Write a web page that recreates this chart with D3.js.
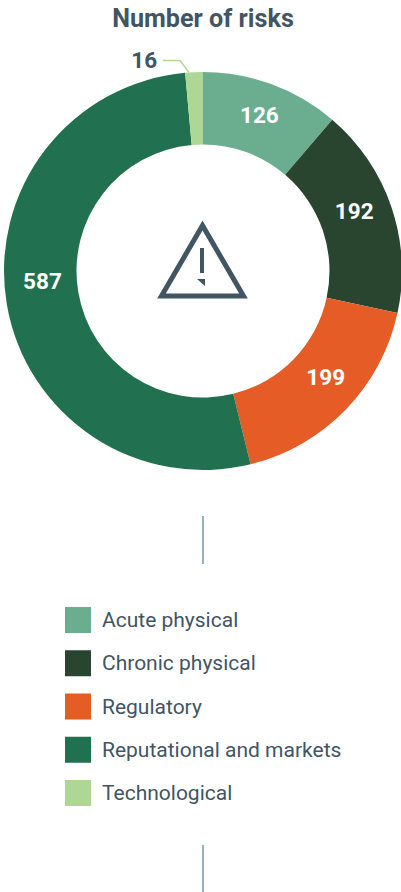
<!DOCTYPE html>
<html><head><meta charset="utf-8">
<script src="https://cdn.jsdelivr.net/npm/d3@7/dist/d3.min.js"></script>
<style>html,body{margin:0;padding:0;background:#fff;overflow:hidden}svg{display:block;font-family:Roboto,sans-serif}</style>
</head><body><svg id="c" width="401" height="892"></svg>
<script>
const categories = ["Acute physical","Chronic physical","Regulatory","Reputational and markets","Technological"];
const values = [126,192,199,587,16];
const colors = ["#6bae8f","#29452f","#e55c27","#217151","#aed694"];
const title = "Number of risks";
const ink = "#425563", rule = "#8fb3bb";
const svg = d3.select("#c");
const cx = 203, cy = 271, R = 199, r = 126.5;
svg.append("text").attr("x",203).attr("y",27).attr("text-anchor","middle")
  .attr("font-size",25.2).attr("font-weight",700).attr("fill",ink).text(title);
const pie = d3.pie().sort(null)(values);
const arc = d3.arc().innerRadius(r).outerRadius(R);
const g = svg.append("g").attr("transform",`translate(${cx},${cy})`);
g.selectAll("path").data(pie).join("path").attr("d",arc).attr("fill",(d,i)=>colors[i]);
const mid = d3.arc().innerRadius((R+r)/2).outerRadius((R+r)/2);
const nudges = [[0,-3],[-3,-8],[6,-8],[0,-17]];
g.selectAll("text.v").data(pie.slice(0,4)).join("text").attr("class","v")
  .attr("transform",(d,i)=>{const c=mid.centroid(d);return `translate(${c[0]+nudges[i][0]},${c[1]+nudges[i][1]})`;})
  .attr("text-anchor","middle").attr("dy","0.36em")
  .attr("font-size",22.5).attr("font-weight",700).attr("fill","#fff")
  .text(d=>d.value);
// small-slice callout
const small = pie[4];
const a0 = small.startAngle + (small.endAngle-small.startAngle)*0.22;
const edge = [R*Math.sin(a0), -R*Math.cos(a0)];
const callout = d3.line()([[edge[0],edge[1]],[edge[0]-9,edge[1]-12],[edge[0]-26,edge[1]-12]]);
g.append("path").attr("d",callout).attr("fill","none").attr("stroke",colors[4]).attr("stroke-width",1.4);
g.append("text").attr("x",edge[0]-32).attr("y",edge[1]-12.5).attr("dy","0.36em")
  .attr("text-anchor","end").attr("font-size",22.5).attr("font-weight",700).attr("fill",ink).text(small.value);
// warning icon
svg.append("path").attr("d","M202.5 225.5L161.5 296H243.5Z").attr("fill","none").attr("stroke",ink).attr("stroke-width",5);
svg.append("rect").attr("x",200).attr("y",248).attr("width",4).attr("height",25).attr("fill",ink);
svg.append("path").attr("d","M197 279H205V286Z").attr("fill",ink);
// rules
[[516,564],[845,892]].forEach(([a,b])=>svg.append("rect").attr("x",202).attr("y",a).attr("width",2).attr("height",b-a).attr("fill",rule));
// legend
const legendY = d3.scalePoint().domain(categories).range([607,780]);
const lg = svg.selectAll("g.l").data(categories).join("g").attr("class","l");
lg.append("rect").attr("x",65).attr("y",d=>legendY(d)).attr("width",26).attr("height",26).attr("fill",(d,i)=>colors[i]);
lg.append("text").attr("x",102).attr("y",d=>legendY(d)+20).attr("font-size",21).attr("fill",ink).text(d=>d);
</script></body></html>
